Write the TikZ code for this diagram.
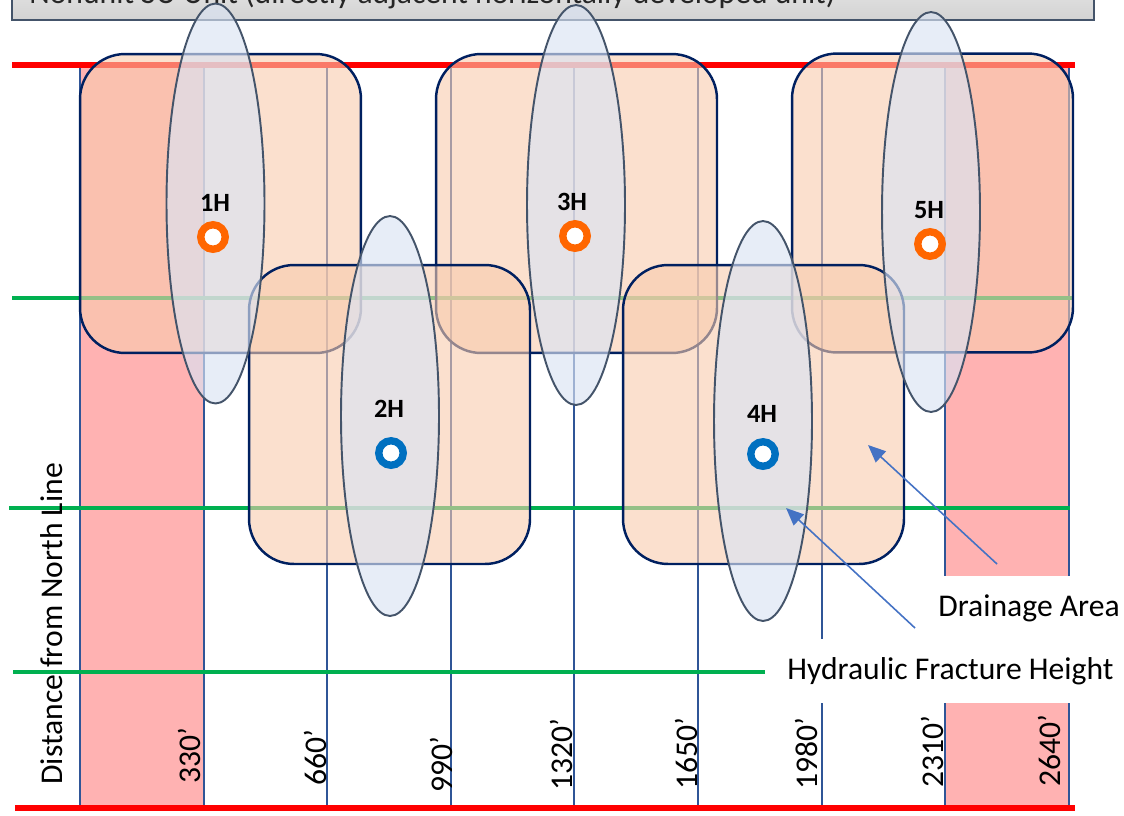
\documentclass[tikz,border=0pt]{standalone}
\usepackage{fontspec}
\setmainfont{Carlito}
\usetikzlibrary{arrows.meta,shapes.geometric,positioning}

\definecolor{gridblue}{HTML}{2F5597}
\definecolor{setback}{HTML}{FFB2B2}
\definecolor{drainfill}{HTML}{F8CBAD}
\definecolor{drainline}{HTML}{002060}
\definecolor{fracfill}{HTML}{DAE3F3}
\definecolor{fracline}{HTML}{44546A}
\definecolor{wellorange}{HTML}{FF6600}
\definecolor{wellblue}{HTML}{0070C0}
\definecolor{arrowblue}{HTML}{4472C4}
\definecolor{linegreen}{HTML}{00B050}

\tikzset{
  drainage/.style={rectangle, draw=drainline, line width=1.4pt, fill=drainfill, fill opacity=0.6,
    rounded corners=0.9cm, minimum width=5.62cm, minimum height=5.98cm, inner sep=0pt},
  fracture/.style={ellipse, draw=fracline, line width=1.1pt, fill=fracfill, fill opacity=0.65,
    minimum width=1.96cm, minimum height=8cm, inner sep=0pt},
  well/.style={circle, draw=#1, line width=4.2pt, fill=white, minimum size=0.49cm, inner sep=0pt},
  welllabel/.style={font=\fontsize{15}{17}\selectfont\bfseries, inner sep=0pt},
  distlabel/.style={font=\fontsize{18}{20}\selectfont, rotate=90, anchor=base west, inner sep=0pt},
  callout/.style={font=\fontsize{18}{20}\selectfont, fill=white, anchor=west, inner xsep=0.24cm,
    minimum height=1.28cm},
  pointer/.style={draw=arrowblue, line width=0.9pt, -{Triangle[length=10pt,width=8.5pt]}}
}

\begin{document}
\begin{tikzpicture}[x=0.02cm, y=-0.02cm]
  \useasboundingbox (0,0) rectangle (1124,815);

  % title bar, cut off at the top
  \path[draw=fracline, line width=1pt, top color=gray!12, bottom color=gray!35] (12,-40) rectangle (1094,20);
  \node[font=\fontsize{18}{20}\selectfont, anchor=base west, inner sep=0pt, text=black!85] (title) at (29,3)
    {Nonunit SU Unit (directly adjacent horizontally developed unit)};

  % setbacks
  \fill[setback] (80,65) rectangle (203,808);
  \fill[setback] (946,65) rectangle (1069,808);

  % 330' grid
  \foreach \i in {0,...,8}
    \draw[gridblue, line width=1.1pt] ({80+123.6*\i},65) -- ({80+123.6*\i},808);

  % unit lines
  \draw[red, line width=3.4pt] (12,65) -- (1075,65);
  \draw[red, line width=3.4pt] (15,808) -- (1075,808);
  \draw[linegreen, line width=2.3pt] (12,298) -- (1072,298);
  \draw[linegreen, line width=2.3pt] (9,508) -- (1070,508);
  \draw[linegreen, line width=2.3pt] (13,672) -- (765,672);

  % drainage areas
  \node[drainage] (area1) at (220.5,203.5) {};
  \node[drainage] (area3) at (576.5,203.5) {};
  \node[drainage] (area5) at (932.5,203) {};
  \node[drainage] (area2) at (389.5,414.5) {};
  \node[drainage] (area4) at (763.5,414.5) {};

  % fracture heights
  \node[fracture] (frac1) at (215.5,203.5) {};
  \node[fracture] (frac2) at (390,416) {};
  \node[fracture] (frac3) at (576,205) {};
  \node[fracture] (frac4) at (763,421) {};
  \node[fracture] (frac5) at (931,212) {};

  % wells
  \node[well=wellorange] (well1) at (213,237) {};
  \node[well=wellblue] (well2) at (391,453) {};
  \node[well=wellorange] (well3) at (575,236) {};
  \node[well=wellblue] (well4) at (763,454) {};
  \node[well=wellorange] (well5) at (930,244) {};

  \node[welllabel] (lab1) at (215,203) {1H};
  \node[welllabel] (lab2) at (389,409) {2H};
  \node[welllabel] (lab3) at (572,202) {3H};
  \node[welllabel] (lab4) at (762,414) {4H};
  \node[welllabel] (lab5) at (929,210) {5H};

  % distances
  \foreach \x/\y/\d in {200/784/330, 326/786/660, 452/793/990, 572/791/1320,
                        697/790/1650, 817/790/1980, 943/788/2310, 1060/787/2640}
    \node[distlabel] (dist\d) at (\x,\y) {\d’};
  \node[distlabel] (axis) at (62,785) {Distance from North Line};

  % callouts
  \node[callout] (hfh) at (775,671) {Hydraulic Fracture Height};
  \node[callout] (drain) at (926,608) {Drainage Area};

  \coordinate (drainTail) at (997,564);
  \coordinate (drainTip) at (868,445);
  \coordinate (hfhTail) at (915,628);
  \coordinate (hfhTip) at (786,508);
  \draw[pointer] (drainTail) -- (drainTip);
  \draw[pointer] (hfhTail) -- (hfhTip);
\end{tikzpicture}
\end{document}
